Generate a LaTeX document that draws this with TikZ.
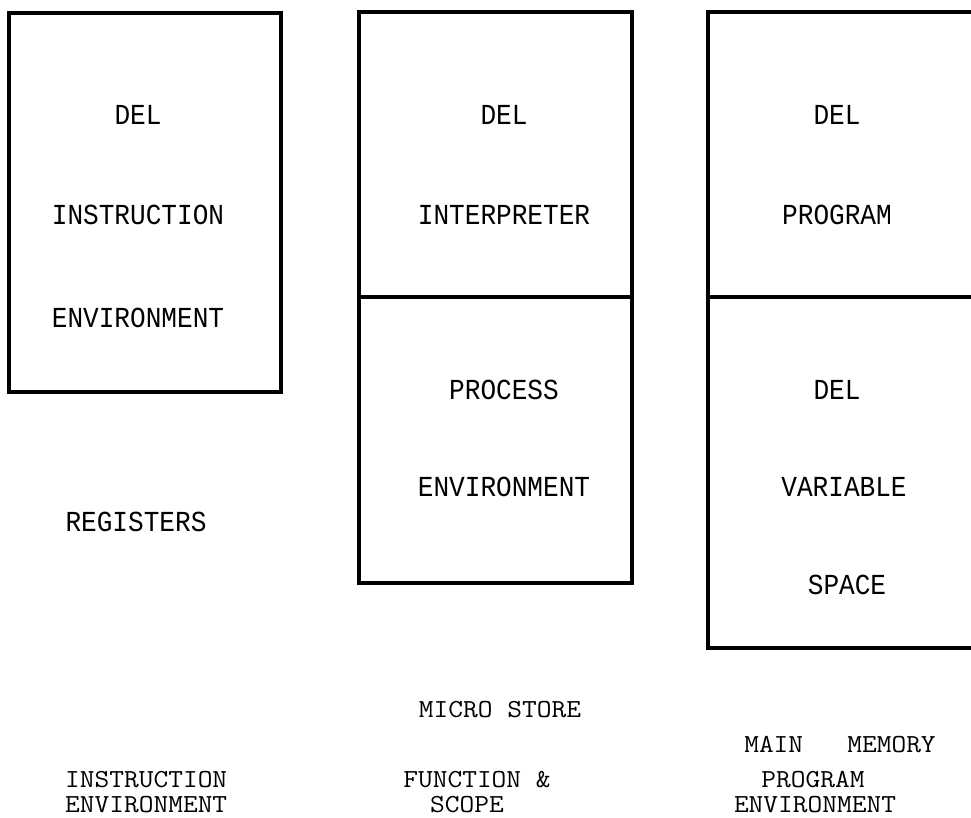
\documentclass[tikz,border=0pt]{standalone}
\usepackage{fontspec}
\newfontfamily\typefont[FakeStretch=0.9]{Liberation Mono}
\newfontfamily\footfont[FakeStretch=1.1]{Latin Modern Mono}
\usetikzlibrary{positioning}

\begin{document}
\begin{tikzpicture}[x=1pt,y=-1pt,
				box/.style={
					draw,
					rectangle,
					line width=3.2pt,
					inner sep=0pt
				},
				txt/.style={
					inner sep=0pt,
					font=\typefont\fontsize{29}{29}\selectfont
				},
				foot/.style={
					inner sep=0pt,
					font=\footfont\fontsize{26}{26}\selectfont
				}
			]
			\useasboundingbox (0,0) rectangle (971,817);
			% registers
			\node[box,minimum width=272pt,minimum height=379pt] (regbox) at (145,202.5) {};
			\node[txt] (regdel) at (138,115) {DEL};
			\node[txt] (reginstr) at (138,215) {INSTRUCTION};
			\node[txt] (regenv) at (138,318) {ENVIRONMENT};
			\node[txt] (reglabel) at (136,522) {REGISTERS};
			% micro store
			\node[box,minimum width=273pt,minimum height=285pt] (interbox) at (495.5,154.5) {};
			\node[box,minimum width=273pt,minimum height=286pt] (procbox) at (495.5,440) {};
			\node[txt] (interdel) at (504,115) {DEL};
			\node[txt] (interp) at (504,215) {INTERPRETER};
			\node[txt] (proc) at (504,390) {PROCESS};
			\node[txt] (procenv) at (504,487) {ENVIRONMENT};
			% main memory
			\node[box,minimum width=292pt,minimum height=285pt] (progbox) at (854,154.5) {};
			\node[box,minimum width=292pt,minimum height=351pt] (varbox) at (854,472.5) {};
			\node[txt] (progdel) at (837,115) {DEL};
			\node[txt] (prog) at (837,215) {PROGRAM};
			\node[txt] (vardel) at (837,390) {DEL};
			\node[txt] (variable) at (844,487) {VARIABLE};
			\node[txt] (space) at (847,585) {SPACE};
			% captions
			\node[foot,anchor=west] (instrfoot) at (65,780) {INSTRUCTION};
			\node[foot,anchor=west] (instrenv) at (65,805) {ENVIRONMENT};
			\node[foot] (microfoot) at (500,710) {MICRO STORE};
			\node[foot] (funcfoot) at (477,780) {FUNCTION \&};
			\node[foot] (scopefoot) at (467,805) {SCOPE};
			\node[foot] (mainfoot) at (840,745) {MAIN\ \ \ MEMORY};
			\node[foot] (progfoot) at (813,780) {PROGRAM};
			\node[foot] (progenv) at (815,805) {ENVIRONMENT};
		\end{tikzpicture}
\end{document}
